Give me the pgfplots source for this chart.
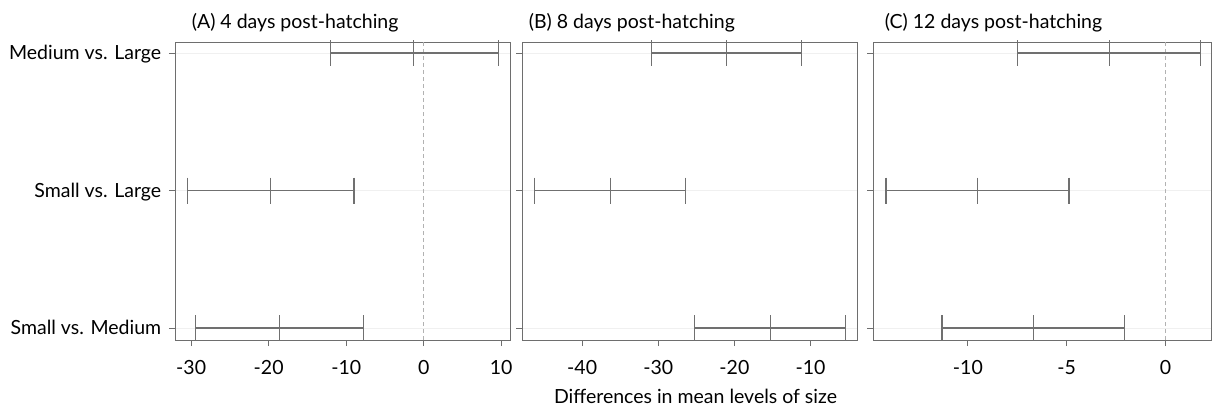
\documentclass[border=0pt]{standalone}
\usepackage{fontspec}
\setmainfont{Lato}
\usepackage{pgfplots}
\pgfplotsset{compat=1.18}
\definecolor{axgray}{HTML}{6E6E6E}
\definecolor{bargray}{HTML}{707070}
\begin{document}
\fontsize{20}{24}\selectfont
\begin{tikzpicture}
\useasboundingbox (0pt,-70pt) rectangle (1212pt,340pt);
\pgfplotsset{
  panel/.style={
    scale only axis, width=335pt, height=298pt, anchor=south west,
    ymin=-0.087, ymax=2.08, ytick={0,1,2},
    axis line style={axgray, line width=1pt},
    tick style={axgray, line width=0.8pt},
    tick align=outside, xtick pos=bottom, ytick pos=left,
    major tick length=6pt,
    ymajorgrids, grid style={black!6, line width=0.8pt},
    /pgf/number format/assume math mode=true,
    tick label style={font=\fontsize{19.5}{23}\selectfont},
    xticklabel style={anchor=base, yshift=-28pt},
    yticklabel style={anchor=base east, yshift=-6.5pt, xshift=-1pt},
    title style={at={(0,1)}, anchor=base west, yshift=8pt, font=\fontsize{19.5}{23}\selectfont},
    clip=false,
  },
  ci/.style={bargray, line width=1.2pt, mark=|, mark size=13pt, mark options={bargray, line width=1.2pt}},
  zero/.style={black!30, dashed, line width=0.9pt, dash pattern=on 4pt off 3pt},
}
% Panel A
\begin{axis}[panel, at={(175pt,0pt)}, xmin=-32.08, xmax=11.13, xtick={-30,-20,-10,0,10},
  yticklabels={Small vs. Medium, Small vs. Large, Medium vs. Large},
  title={(A) 4 days post-hatching}, title style={xshift=10pt}]
\addplot[zero] coordinates {(0,-0.087) (0,2.08)};
\addplot[ci] coordinates {(-12.0,2) (-1.3,2) (9.6,2)};
\addplot[ci] coordinates {(-30.5,1) (-19.8,1) (-9.0,1)};
\addplot[ci] coordinates {(-29.4,0) (-18.6,0) (-7.8,0)};
\end{axis}
% Panel B
\begin{axis}[panel, at={(522pt,0pt)}, xmin=-47.9, xmax=-3.9, xtick={-40,-30,-20,-10},
  yticklabels={}, title={(B) 8 days post-hatching},
  xlabel={Differences in mean levels of size},
  xlabel style={font=\fontsize{19.5}{23}\selectfont, at={(0.5,0)}, anchor=base, yshift=-63pt, xshift=6pt}]
\addplot[ci] coordinates {(-30.9,2) (-21.0,2) (-11.2,2)};
\addplot[ci] coordinates {(-46.3,1) (-36.3,1) (-26.4,1)};
\addplot[ci] coordinates {(-25.2,0) (-15.3,0) (-5.4,0)};
\end{axis}
% Panel C
\begin{axis}[panel, at={(873pt,0pt)}, width=338pt, xmin=-14.8, xmax=2.3, xtick={-10,-5,0},
  yticklabels={}, title={(C) 12 days post-hatching}, title style={xshift=5pt}]
\addplot[zero] coordinates {(0,-0.087) (0,2.08)};
\addplot[ci] coordinates {(-7.47,2) (-2.85,2) (1.77,2)};
\addplot[ci] coordinates {(-14.14,1) (-9.53,1) (-4.88,1)};
\addplot[ci] coordinates {(-11.31,0) (-6.69,0) (-2.06,0)};
\end{axis}
\end{tikzpicture}
\end{document}
